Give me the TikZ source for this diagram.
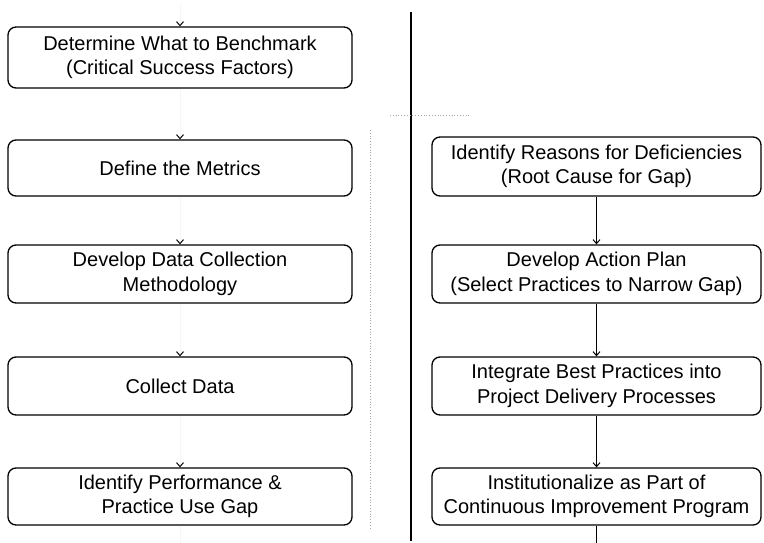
\documentclass[tikz,border=0pt]{standalone}
\usepackage{fontspec}
\setmainfont{Liberation Sans}
\usetikzlibrary{arrows.meta}
\tikzset{
  stepbox/.style={draw=black, line width=1.3pt, rounded corners=8pt, align=center,
    inner sep=0pt, font=\fontsize{20}{24.5}\selectfont},
  leftbox/.style={stepbox, minimum width=344pt},
  rightbox/.style={stepbox, minimum width=329pt},
  flow/.style={line width=0.9pt, -{Straight Barb[length=4pt,width=7pt,line width=1pt]}},
  faintflow/.style={draw=gray!8, line width=0.6pt, -{Straight Barb[length=4pt,width=7pt,line width=1pt,color=black]}},
  divider/.style={line width=1.5pt},
  faintdots/.style={gray!70, line width=0.8pt, dotted}
}
\begin{document}
\begin{tikzpicture}[x=1pt,y=-1pt]
\useasboundingbox (0,0) rectangle (764,543);
% left column
\node[leftbox, minimum height=61pt] (b1) at (180,57.5) {Determine What to Benchmark\\(Critical Success Factors)};
\node[leftbox, minimum height=56pt] (b2) at (180,168) {Define the Metrics};
\node[leftbox, minimum height=58pt] (b3) at (180,274) {Develop Data Collection\\Methodology};
\node[leftbox, minimum height=58pt] (b4) at (180,386) {Collect Data};
\node[leftbox, minimum height=57pt] (b5) at (180,496.5) {Identify Performance \&\\Practice Use Gap};
% right column
\node[rightbox, minimum height=59pt] (r1) at (596.5,166.5) {Identify Reasons for Deficiencies\\(Root Cause for Gap)};
\node[rightbox, minimum height=58pt] (r2) at (596.5,274) {Develop Action Plan\\(Select Practices to Narrow Gap)};
\node[rightbox, minimum height=58pt] (r3) at (596.5,386) {Integrate Best Practices into\\Project Delivery Processes};
\node[rightbox, minimum height=57pt] (r4) at (596.5,496.5) {Institutionalize as Part of\\Continuous Improvement Program};
% free ends
\coordinate (ltop) at (180,4);
\coordinate (lbot) at (180,543);
\coordinate (rbot) at (596.5,543);
\coordinate (dtop) at (411,12);
\coordinate (dbot) at (411,541);
\coordinate (vtop) at (370,130);
\coordinate (vbot) at (370,530);
\coordinate (hl) at (390,115);
\coordinate (hr) at (470,115);
% left connectors (faded in the reference, only tips visible)
\draw[faintflow] (ltop) -- (b1.north);
\draw[faintflow] (b1.south) -- (b2.north);
\draw[faintflow] (b2.south) -- (b3.north);
\draw[faintflow] (b3.south) -- (b4.north);
\draw[faintflow] (b4.south) -- (b5.north);
\draw[draw=gray!8, line width=0.6pt] (b5.south) -- (lbot);
% right connectors
\draw[flow] (r1.south) -- (r2.north);
\draw[flow] (r2.south) -- (r3.north);
\draw[flow] (r3.south) -- (r4.north);
\draw[line width=0.9pt] (r4.south) -- (rbot);
% dividers
\draw[divider] (dtop) -- (dbot);
\draw[faintdots] (vtop) -- (vbot);
\draw[faintdots] (hl) -- (hr);
\end{tikzpicture}
\end{document}
